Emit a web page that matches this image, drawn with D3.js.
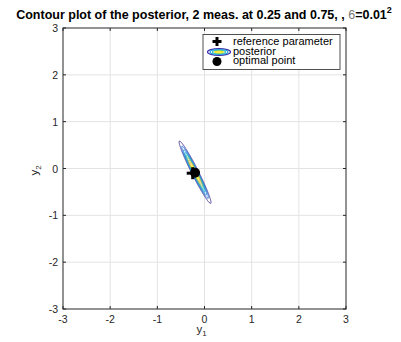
<!DOCTYPE html>
<html><head><meta charset="utf-8">
<script src="https://cdn.jsdelivr.net/npm/d3@7"></script>
<style>
body{margin:0;background:#fff}
svg{display:block}
text{font-family:"Liberation Sans",Arial,Helvetica,sans-serif}
</style>
</head><body>
<svg id="chart" width="401" height="342"></svg>
<script>
// axis ticks
const xTicks = [-3, -2, -1, 0, 1, 2, 3];
const yTicks = [-3, -2, -1, 0, 1, 2, 3];
// Gaussian posterior: mean and covariance in (y1, y2)
const posteriorMean = [-0.2, -0.08];
const posteriorCov = [[0.0248, -0.0474], [-0.0474, 0.0960]];
// contour levels, as fractions of the peak density
const contourLevels = [0.1, 0.2, 0.3, 0.4, 0.5, 0.6, 0.7, 0.8, 0.9];
// markers
const referenceParameter = [-0.25, -0.1];
const optimalPoint = [-0.2, -0.09];
const legendLabels = ["reference parameter", "posterior", "optimal point"];

const svg = d3.select("#chart");
const L = 63, R = 346, T = 28, B = 309;
const x = d3.scaleLinear().domain([-3, 3]).range([L, R]);
const y = d3.scaleLinear().domain([-3, 3]).range([B, T]);
const axisColor = "#262626";

// parula-like colormap
const parulaStops = ["#352a87", "#0f5cdd", "#1481d6", "#06a4ca", "#2eb7a4", "#87bf77", "#d1bb59", "#fec832", "#f9fb0e"];
const parula = d3.scaleLinear().domain(d3.range(parulaStops.length).map(i => i / (parulaStops.length - 1))).range(parulaStops).interpolate(d3.interpolateRgb);

// grid lines
const grid = svg.append("g").attr("stroke", "#e3e3e3").attr("stroke-width", 1);
xTicks.slice(1, -1).forEach(t => grid.append("line").attr("x1", x(t)).attr("x2", x(t)).attr("y1", T).attr("y2", B));
yTicks.slice(1, -1).forEach(t => grid.append("line").attr("y1", y(t)).attr("y2", y(t)).attr("x1", L).attr("x2", R));

// density grid and contours
const x0 = -1.3, x1 = 0.9, y0 = -1.5, y1 = 1.3, step = 0.004;
const nx = Math.round((x1 - x0) / step), ny = Math.round((y1 - y0) / step);
const [[a, b], [, d]] = posteriorCov;
const det = a * d - b * b;
const ia = d / det, ib = -b / det, id = a / det;
const values = new Float64Array(nx * ny);
for (let j = 0; j < ny; j++) {
  const dy = y0 + j * step - posteriorMean[1];
  for (let i = 0; i < nx; i++) {
    const dx = x0 + i * step - posteriorMean[0];
    values[i + j * nx] = Math.exp(-0.5 * (ia * dx * dx + 2 * ib * dx * dy + id * dy * dy));
  }
}
const contours = d3.contours().size([nx, ny]).thresholds(contourLevels)(values);
const proj = d3.geoTransform({
  point(px, py) { this.stream.point(x(x0 + (px - 0.5) * step), y(y0 + (py - 0.5) * step)); }
});
const path = d3.geoPath(proj);
const levelColor = d3.scaleLinear().domain(d3.extent(contourLevels)).range([0, 1]);
svg.append("defs").append("clipPath").attr("id", "plotClip")
  .append("rect").attr("x", L).attr("y", T).attr("width", R - L).attr("height", B - T);
svg.append("g").attr("clip-path", "url(#plotClip)")
  .selectAll("path").data(contours).join("path")
  .attr("d", path).attr("fill", "none")
  .attr("stroke", c => parula(levelColor(c.value))).attr("stroke-width", 0.9);

// markers
function plusMarker(g, cx, cy, s, w) {
  g.append("line").attr("x1", cx - s).attr("x2", cx + s).attr("y1", cy).attr("y2", cy).attr("stroke", "#000").attr("stroke-width", w);
  g.append("line").attr("x1", cx).attr("x2", cx).attr("y1", cy - s).attr("y2", cy + s).attr("stroke", "#000").attr("stroke-width", w);
}
const mk = svg.append("g");
plusMarker(mk, x(referenceParameter[0]), y(referenceParameter[1]), 6, 3);
mk.append("circle").attr("cx", x(optimalPoint[0])).attr("cy", y(optimalPoint[1])).attr("r", 5).attr("fill", "#000");

// axes box and ticks
const ax = svg.append("g").attr("stroke", axisColor).attr("stroke-width", 1);
ax.append("rect").attr("x", L).attr("y", T).attr("width", R - L).attr("height", B - T).attr("fill", "none");
const tl = 3;
xTicks.forEach(t => {
  ax.append("line").attr("x1", x(t)).attr("x2", x(t)).attr("y1", B).attr("y2", B - tl);
  ax.append("line").attr("x1", x(t)).attr("x2", x(t)).attr("y1", T).attr("y2", T + tl);
});
yTicks.forEach(t => {
  ax.append("line").attr("y1", y(t)).attr("y2", y(t)).attr("x1", L).attr("x2", L + tl);
  ax.append("line").attr("y1", y(t)).attr("y2", y(t)).attr("x1", R).attr("x2", R - tl);
});

// tick labels
const tickFont = 10.5;
svg.append("g").selectAll("text").data(xTicks).join("text")
  .attr("x", t => x(t)).attr("y", B + 14).attr("text-anchor", "middle")
  .attr("font-size", tickFont).attr("fill", axisColor).text(t => t);
svg.append("g").selectAll("text").data(yTicks).join("text")
  .attr("x", L - 5).attr("y", t => y(t) + 4).attr("text-anchor", "end")
  .attr("font-size", tickFont).attr("fill", axisColor).text(t => t);

// axis labels
const xl = svg.append("text").attr("x", x(0) - 3).attr("y", 333).attr("text-anchor", "middle")
  .attr("font-size", 11.5).attr("fill", axisColor);
xl.append("tspan").text("y");
xl.append("tspan").attr("font-size", 8).attr("dy", 3).text("1");
const yl = svg.append("text").attr("transform", `translate(38,${y(0) + 2}) rotate(-90)`).attr("text-anchor", "middle")
  .attr("font-size", 11.5).attr("fill", axisColor);
yl.append("tspan").text("y");
yl.append("tspan").attr("font-size", 8).attr("dy", 3).text("2");

// title
const title = svg.append("text").attr("x", 204).attr("y", 19).attr("text-anchor", "middle")
  .attr("font-size", 12.5).attr("font-weight", "bold").attr("fill", "#000");
title.append("tspan").text("Contour plot of the posterior, 2 meas. at 0.25 and 0.75, , ");
title.append("tspan").attr("font-weight", "normal").attr("fill", "#777").text("6");
title.append("tspan").text("=0.01");
title.append("tspan").attr("font-size", 9).attr("dy", -6).text("2");

// legend
const lg = svg.append("g");
lg.append("rect").attr("x", 203).attr("y", 34.5).attr("width", 137).attr("height", 35)
  .attr("fill", "#fff").attr("stroke", axisColor).attr("stroke-width", 0.8);
const rowY = [41.5, 51.5, 60.5];
lg.selectAll("text").data(legendLabels).join("text")
  .attr("x", 233).attr("y", (d, i) => rowY[i] + 3.6)
  .attr("font-size", 11).attr("fill", "#000").text(d => d);
plusMarker(lg, 217, rowY[0], 4.5, 3);
[[11.5, 3.3, "#3b2ea8"], [9, 2.4, "#1f9ee0"], [6.5, 1.6, "#3cc0b0"], [4.2, 0.9, "#f3e41a"]].forEach(([rx, ry, c]) =>
  lg.append("ellipse").attr("cx", 219).attr("cy", rowY[1] + 0.5).attr("rx", rx).attr("ry", ry)
    .attr("fill", "none").attr("stroke", c).attr("stroke-width", 1.2));
lg.append("circle").attr("cx", 217).attr("cy", rowY[2] + 1).attr("r", 4.5).attr("fill", "#000");
</script>
</body></html>
